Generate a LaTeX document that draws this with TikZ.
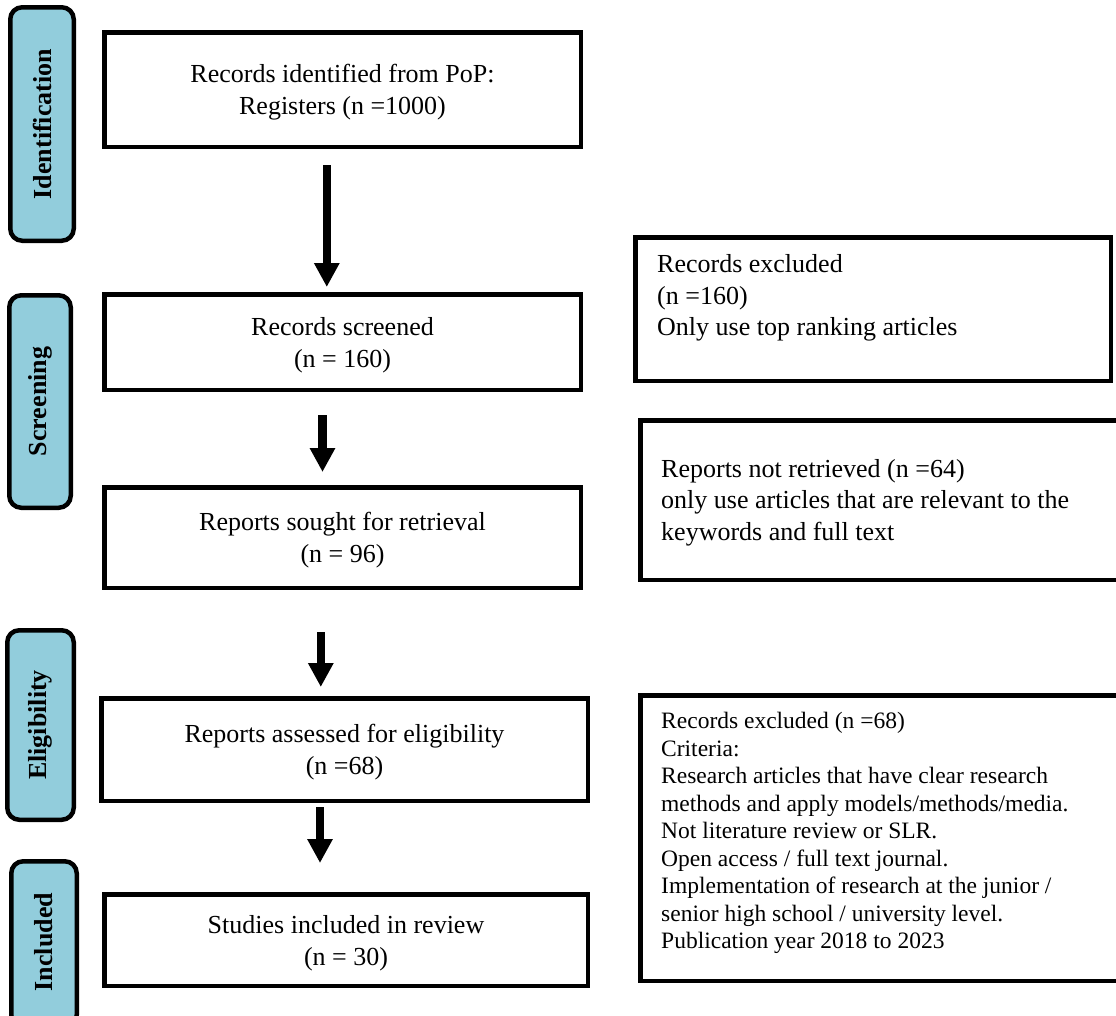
\documentclass[tikz,border=0pt]{standalone}
\usepackage{fontspec}
\setmainfont{Liberation Serif}
\usetikzlibrary{arrows.meta}
\definecolor{phaseblue}{RGB}{146,205,220}
\newcommand{\toppad}{\rule{0pt}{24.5pt}}
\begin{document}
\begin{tikzpicture}[x=1pt,y=-1pt,
 mainbox/.style={draw, line width=4.5pt, align=center, inner sep=0pt, font=\fontsize{26}{32}\selectfont},
 sidebox/.style={draw, line width=4.5pt, inner sep=0pt},
 sidetext/.style={anchor=north west, align=left, inner sep=0pt, font=\fontsize{26}{31.5}\selectfont},
 smalltext/.style={anchor=north west, align=left, inner sep=0pt, font=\fontsize{23.5}{27.5}\selectfont},
 phase/.style={draw, line width=4.5pt, fill=phaseblue, rounded corners=12pt, inner sep=0pt},
 phasetext/.style={rotate=90, inner sep=0pt, font=\fontsize{26}{30}\selectfont\bfseries},
 flow/.style={line width=8.5pt, -{Triangle[width=24pt,length=24pt]}}]
\useasboundingbox (0,0) rectangle (1116,1015);
\clip (0,0) rectangle (1116,1015);
\fill[white] (0,0) rectangle (1116,1015);

% phase labels
\node[phase, minimum width=63.5pt, minimum height=233.5pt] (p1) at (42,124) {};
\node[phasetext] (p1t) at (p1) {Identification};
\node[phase, minimum width=61.5pt, minimum height=212.5pt] (p2) at (40,401.5) {};
\node[phasetext] (p2t) at (p2) {Screening};
\node[phase, minimum width=66.5pt, minimum height=189.5pt] (p3) at (40.5,725) {};
\node[phasetext] (p3t) at (p3) {Eligibility};
\node[phase, minimum width=65.5pt, minimum height=165.5pt] (p4) at (44,944) {};
\node[phasetext] (p4t) at (44,942) {Included};

% main flow boxes
\node[mainbox, minimum width=476.5pt, minimum height=114.5pt] (b1) at (342.5,89.5) {\toppad Records identified from PoP:\\Registers (n =1000)};
\node[mainbox, minimum width=476.5pt, minimum height=95.5pt] (b2) at (342.5,342) {\toppad Records screened\\(n = 160)};
\node[mainbox, minimum width=476.5pt, minimum height=100.5pt] (b3) at (342.5,537.5) {\toppad Reports sought for retrieval\\(n = 96)};
\node[mainbox, minimum width=486.5pt, minimum height=102.5pt] (b4) at (344.5,749.5) {\toppad Reports assessed for eligibility\\(n =68)};
\node[mainbox, minimum width=483.5pt, minimum height=91.5pt] (b5) at (346,940) {\toppad Studies included in review\\(n = 30)};

% side boxes
\node[sidebox, minimum width=475.5pt, minimum height=143.5pt] (rA) at (873,309) {};
\node[sidetext] (tA) at (657,254.5) {Records excluded\\(n =160)\\Only use top ranking articles};
\node[sidebox, minimum width=487.5pt, minimum height=159.5pt] (rB) at (884,500) {};
\node[sidetext] (tB) at (661,459) {Reports not retrieved (n =64)\\only use articles that are relevant to the\\keywords and full text};
\node[sidebox, minimum width=487.5pt, minimum height=285.5pt] (rC) at (884,838) {};
\node[smalltext] (tC) at (661,712.3) {Records excluded (n =68)\\Criteria:\\Research articles that have clear research\\methods and apply models/methods/media.\\Not literature review or SLR.\\Open access / full text journal.\\Implementation of research at the junior /\\senior high school / university level.\\Publication year 2018 to 2023};

% arrows
\draw[flow] ([xshift=-15.7pt,yshift=-16pt]b1.south) -- ([xshift=-15.7pt,yshift=5pt]b2.north);
\draw[flow] ([xshift=-20pt,yshift=-23pt]b2.south) -- ([xshift=-20pt,yshift=13pt]b3.north);
\draw[flow] ([xshift=-21.7pt,yshift=-42pt]b3.south) -- ([xshift=-23.7pt,yshift=9pt]b4.north);
\draw[flow] ([xshift=-24.5pt,yshift=-4pt]b4.south) -- ([xshift=-26pt,yshift=29pt]b5.north);
\end{tikzpicture}
\end{document}
